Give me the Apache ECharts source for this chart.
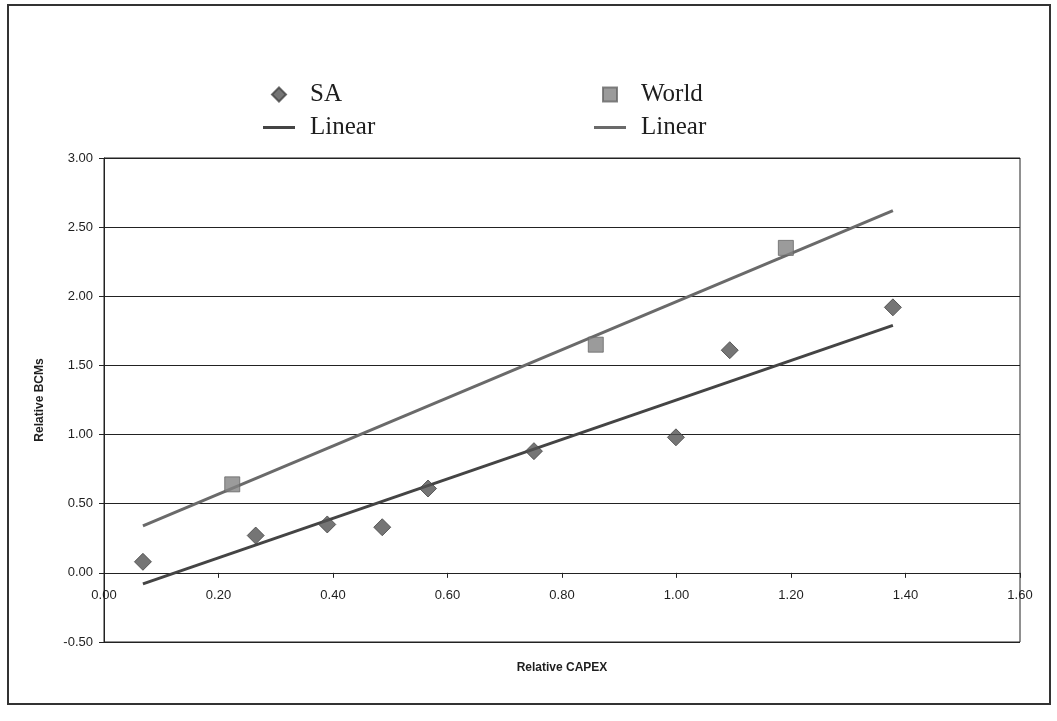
<!DOCTYPE html>
<html>
<head>
<meta charset="utf-8">
<script src="https://cdn.jsdelivr.net/npm/echarts@6/dist/echarts.min.js"></script>
<style>html,body{margin:0;padding:0;background:#fff}#c{width:1057px;height:721px}</style>
</head>
<body>
<div id="c"></div>
<script>
// Data
var saX = [0.068, 0.265, 0.390, 0.486, 0.566, 0.751, 0.999, 1.093, 1.378];
var saY = [0.08, 0.27, 0.35, 0.33, 0.61, 0.88, 0.98, 1.61, 1.92];
var worldX = [0.224, 0.859, 1.191];
var worldY = [0.64, 1.65, 2.35];
var saLinearX = [0.068, 1.378];
var saLinearY = [-0.08, 1.79];
var worldLinearX = [0.068, 1.378];
var worldLinearY = [0.34, 2.62];
var xTicks = [0, 0.2, 0.4, 0.6, 0.8, 1.0, 1.2, 1.4, 1.6];
var yTicks = [-0.5, 0, 0.5, 1.0, 1.5, 2.0, 2.5, 3.0];

function pairs(xs, ys) { return xs.map(function (x, i) { return [x, ys[i]]; }); }

var chart = echarts.init(document.getElementById('c'));
var serif = '"Liberation Serif", "Times New Roman", serif';
var sans = '"Liberation Sans", Arial, sans-serif';
var diamondPath = 'path://M7,0 L14,7 L7,14 L0,7 Z';
var squarePath = 'path://M0,0 L13,0 L13,13 L0,13 Z';
var linePath = 'path://M0,0 L32,0 L32,3 L0,3 Z';

var legendCommon = {
  orient: 'vertical',
  top: 76,
  itemWidth: 32,
  itemHeight: 14,
  itemGap: 6,
  selectedMode: false,
  textStyle: { fontFamily: serif, fontSize: 25, color: '#1e1e1e', lineHeight: 27, padding: [0, 0, 0, 10] },
  formatter: function (n) { return n.replace(/^(SA|World) /, ''); }
};

// grid spans y from -0.5 (bottom) to 3.0 (top): the x axis sits on the 0 line
var gridTop = 158, gridBottomPx = 642;
var zeroOffset = (gridBottomPx - gridTop) * (0 - yTicks[0]) / (yTicks[yTicks.length - 1] - yTicks[0]);

chart.setOption({
  backgroundColor: '#ffffff',
  animation: false,
  grid: { left: 104, right: 37, top: gridTop, bottom: 721 - gridBottomPx, containLabel: false, outerBoundsMode: 'none',
    show: true, borderColor: '#222', borderWidth: 1, backgroundColor: 'transparent' },
  legend: [
    Object.assign({}, legendCommon, { left: 258, data: [{ name: 'SA', icon: diamondPath }, { name: 'SA Linear', icon: linePath }] }),
    Object.assign({}, legendCommon, { left: 589, data: [{ name: 'World', icon: squarePath }, { name: 'World Linear', icon: linePath }] })
  ],
  xAxis: {
    type: 'value', min: xTicks[0], max: xTicks[xTicks.length - 1], interval: 0.2,
    position: 'bottom', offset: -zeroOffset,
    name: 'Relative CAPEX', nameLocation: 'middle', nameGap: 89,
    nameTextStyle: { fontFamily: sans, fontSize: 12, fontWeight: 'bold', color: '#1e1e1e' },
    axisLine: { onZero: false, lineStyle: { color: '#222', width: 1 } },
    axisTick: { show: true, length: 5, inside: false, lineStyle: { color: '#222' } },
    axisLabel: { margin: 16, fontFamily: sans, fontSize: 13, color: '#1e1e1e', formatter: function (v) { return v.toFixed(2); } },
    splitLine: { show: false }
  },
  yAxis: {
    type: 'value', min: yTicks[0], max: yTicks[yTicks.length - 1], interval: 0.5,
    name: 'Relative BCMs', nameLocation: 'middle', nameGap: 58,
    nameTextStyle: { fontFamily: sans, fontSize: 12, fontWeight: 'bold', color: '#1e1e1e' },
    axisLine: { show: true, onZero: false, lineStyle: { color: '#222', width: 1 } },
    axisTick: { show: true, length: 5, lineStyle: { color: '#222' } },
    axisLabel: { margin: 11, fontFamily: sans, fontSize: 13, color: '#1e1e1e', formatter: function (v) { return v.toFixed(2); } },
    splitLine: { show: true, lineStyle: { color: '#222', width: 1 } }
  },
  series: [
    { name: 'SA', type: 'scatter', data: pairs(saX, saY), symbol: 'diamond', symbolSize: [17, 17],
      itemStyle: { color: '#525252', borderColor: '#444', borderWidth: 1 }, z: 5 },
    { name: 'SA Linear', type: 'line', data: pairs(saLinearX, saLinearY), symbol: 'none',
      lineStyle: { color: '#444444', width: 3 }, itemStyle: { color: '#444444' }, z: 3 },
    { name: 'World', type: 'scatter', data: pairs(worldX, worldY), symbol: 'rect', symbolSize: 15,
      itemStyle: { color: '#828282', borderColor: '#666', borderWidth: 1 }, z: 5 },
    { name: 'World Linear', type: 'line', data: pairs(worldLinearX, worldLinearY), symbol: 'none',
      lineStyle: { color: '#6a6a6a', width: 3 }, itemStyle: { color: '#6a6a6a' }, z: 3 }
  ],
  graphic: [
    { type: 'rect', shape: { x: 8, y: 5, width: 1042, height: 699 }, style: { fill: 'none', stroke: '#333', lineWidth: 2 }, silent: true }
  ]
});
</script>
</body>
</html>
